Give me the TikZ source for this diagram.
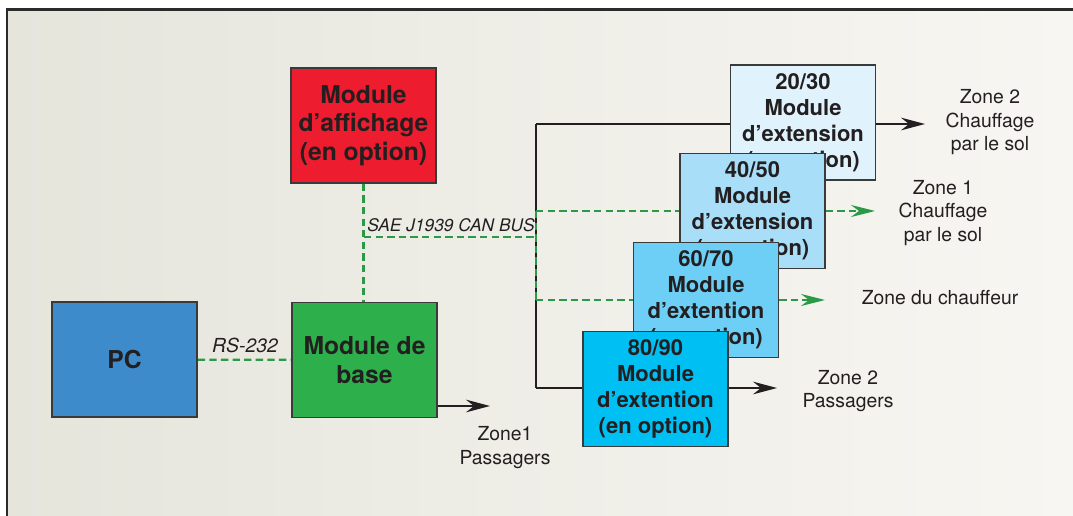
\documentclass[tikz,border=0pt]{standalone}
\usepackage{fontspec}
\setmainfont{TeX Gyre Heros}
\usetikzlibrary{arrows.meta}
\definecolor{bgL}{HTML}{E6E5DC}
\definecolor{bgR}{HTML}{F7F6F2}
\definecolor{frame}{HTML}{2B2B2B}
\definecolor{txt}{HTML}{231F20}
\definecolor{edge}{HTML}{3A3A3A}
\definecolor{cPC}{HTML}{3D8BCA}
\definecolor{cBase}{HTML}{2DB04B}
\definecolor{cAff}{HTML}{ED1C2E}
\definecolor{cA}{HTML}{E0F3FC}
\definecolor{cB}{HTML}{A9DEF9}
\definecolor{cC}{HTML}{6DCFF6}
\definecolor{cD}{HTML}{00BFF3}
\definecolor{busgreen}{HTML}{2A9A46}
\pgfdeclarelayer{bg}
\pgfdeclarelayer{lines}
\pgfsetlayers{bg,lines,main}
\tikzset{
  modbox/.style={draw=edge, line width=1.1pt, minimum width=108.75pt, minimum height=86.25pt,
    inner sep=0pt, align=center, text=txt},
  bigtxt/.style={font=\fontsize{18.5pt}{21.5pt}\selectfont\bfseries},
  exttxt/.style={font=\fontsize{16.5pt}{19.5pt}\selectfont\bfseries},
  lbl/.style={align=center, text=txt, inner sep=0pt, font=\fontsize{14.5pt}{17.6pt}\selectfont},
  itl/.style={text=txt, inner sep=0pt, font=\fontsize{14.5pt}{17pt}\selectfont\itshape},
  blk/.style={draw=txt, line width=1.7pt},
  bus/.style={draw=busgreen, line width=1.7pt, dash pattern=on 5.5pt off 3.2pt},
  arr/.style={-{Stealth[length=18pt,width=9.5pt,inset=6pt]}},
  garr/.style={-{Stealth[length=18pt,width=9pt,inset=6pt,fill=busgreen]}},
}
\begin{document}
\begin{tikzpicture}[x=0.75pt,y=-0.75pt]
\useasboundingbox (0,0) rectangle (1073,516);
\begin{pgfonlayer}{bg}
  \fill[white] (0,0) rectangle (1073,516);
  \shade[left color=bgL, right color=bgR] (7,9.5) rectangle (1073,516);
  \draw[frame, line width=1.9pt] (7.2,516) -- (7.2,9.5) -- (1073,9.5);
\end{pgfonlayer}

% boxes
\node[modbox, fill=cPC, bigtxt] (pc) at (124.5,359.5) {PC};
\node[modbox, fill=cBase, bigtxt] (base) at (364.5,360) {Module de\\base};
\node[modbox, fill=cAff, bigtxt] (aff) at (363.5,125.5) {Module\\d’affichage\\(en option)};
\node[modbox, fill=cA, exttxt] (m20) at (803,122.5) {20/30\\Module\\d’extension\\(en option)};
\node[modbox, fill=cB, exttxt] (m40) at (752.5,211) {40/50\\Module\\d’extension\\(en option)};
\node[modbox, fill=cC, exttxt] (m60) at (706,300) {60/70\\Module\\d’extention\\(en option)};
\node[modbox, fill=cD, exttxt] (m80) at (655.5,389) {80/90\\Module\\d’extention\\(en option)};

% junction points and arrow ends
\coordinate (j1) at (536,124);
\coordinate (j2) at (536,388);
\coordinate (b1) at (364,237);
\coordinate (b2) at (536,237);
\coordinate (b3) at (536,211);
\coordinate (b4) at (536,300);
\coordinate (t20) at (925,124);
\coordinate (t40) at (875,211);
\coordinate (t60) at (825,300);
\coordinate (t80) at (777,388);
\coordinate (tb) at (490,406);

\begin{pgfonlayer}{lines}
  \draw[blk] (j1) -- (j2);
  \draw[blk] (j1) -- (j1 -| m20.west);
  \draw[blk] (j2) -- (j2 -| m80.west);
  \draw[bus] (aff.south) -- (aff.south |- base.north);
  \draw[bus] (b1) -- (b2);
  \draw[bus] (b3) -- (b4);
  \draw[bus] (b3) -- (b3 -| m40.west);
  \draw[bus] (b4) -- (b4 -| m60.west);
  \draw[bus] (pc) -- (base);
\end{pgfonlayer}

% outputs
\draw[blk,arr] (m20.east |- j1) -- (t20);
\draw[bus,garr] (m40.east |- b3) -- (t40);
\draw[bus,garr] (m60.east |- b4) -- (t60);
\draw[blk,arr] (m80.east |- j2) -- (t80);
\draw[blk,arr] (base.east |- tb) -- (tb);

% labels
\node[itl] (rs) at (245,345) {RS-232};
\node[itl, font=\fontsize{13pt}{15pt}\selectfont\itshape] (can) at (451,225) {SAE J1939 CAN BUS};
\node[lbl] (z1p) at (505,447.5) {Zone1\\Passagers};
\node[lbl] (z2p) at (848,391) {Zone 2\\Passagers};
\node[lbl] (zc) at (940,298) {Zone du chauffeur};
\node[lbl] (z1c) at (943,213) {Zone 1\\Chauffage\\par le sol};
\node[lbl] (z2c) at (990,122.5) {Zone 2\\Chauffage\\par le sol};
\end{tikzpicture}
\end{document}
